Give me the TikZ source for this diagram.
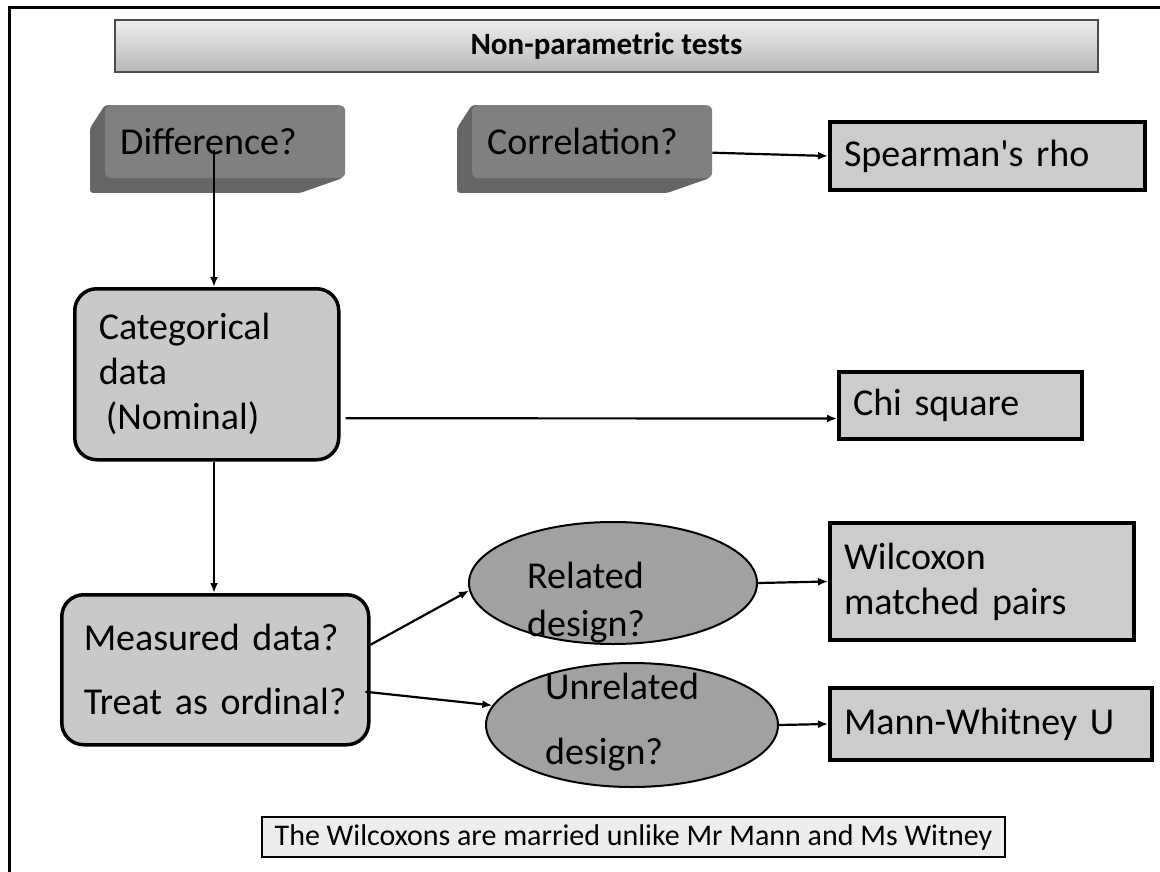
\documentclass[tikz,border=0pt]{standalone}
\usepackage{fontspec}
\setmainfont{Carlito}
\usetikzlibrary{arrows.meta,shapes.geometric}

\tikzset{
  bigtxt/.style={font=\fontsize{38}{45}\selectfont},
  resbox/.style={bigtxt,draw,line width=4pt,fill=black!20,inner xsep=14pt,align=left,anchor=north west},
  databox/.style={bigtxt,draw,line width=3.5pt,fill=black!21,rounded corners=22pt,align=left,anchor=north west},
  plaque/.style={bigtxt,fill=black!50,rounded corners=6pt,inner xsep=15pt,text width=210pt,minimum height=73pt,align=left,anchor=north west},
  design/.style={ellipse,draw,line width=2pt,fill=black!37,inner sep=0pt},
  arr/.style={line width=2.2pt,-{Latex[length=10pt,width=8pt]}},
}

\begin{document}
\begin{tikzpicture}[x=1pt,y=-1pt]
\useasboundingbox (0,0) rectangle (1160,872);
\fill[white] (0,0) rectangle (1160,872);
\draw[line width=3pt] (9,872) -- (9,8) -- (1160,8);

% heading
\node[draw=black!70,line width=2pt,top color=black!7,bottom color=black!28,minimum width=983pt,minimum height=52pt,font=\fontsize{31}{36}\selectfont\bfseries] (title) at (606.5,46) {Non-parametric tests};

% the two question plaques
\foreach \fx in {105,472}
  \fill[black!60,rounded corners=3pt] (\fx,105) -- (\fx-15,128) -- (\fx-15,193) -- (\fx+195,193) -- (\fx+238,178) -- (\fx+238,110) -- cycle;
\node[plaque] (diff) at (105,105) {Difference?};
\node[plaque] (corr) at (472,105) {Correlation?};
\node[resbox,text width=287pt,minimum height=68pt] (spear) at (828,120) {Spearman\textquotesingle s rho};

% data type
\node[databox,text width=216pt,inner xsep=24pt,minimum height=171pt] (cat) at (73,287) {Categorical\\data\\\hspace*{7pt}(Nominal)};
\node[resbox,text width=215pt,minimum height=67pt] (chi) at (837,370) {Chi square};
\node[databox,text width=263pt,inner xsep=22pt,minimum height=150pt] (meas) at (60,593) {Measured data?\\[19pt]Treat as ordinal?};

% design
\node[design,minimum width=288pt,minimum height=122pt] (rel) at (613,583) {};
\node[bigtxt,align=left,anchor=west,inner sep=0pt] (relt) at (527,603) {Related\\[3pt]design?};
\node[design,minimum width=292pt,minimum height=124pt] (unrel) at (632,725) {};
\node[bigtxt,align=left,anchor=west,inner sep=0pt] (unrelt) at (545,722) {Unrelated\\[20pt]design?};
\node[resbox,text width=276pt,minimum height=117pt] (wil) at (828,521) {Wilcoxon\\matched pairs};
\node[resbox,text width=294pt,minimum height=72pt] (mann) at (828,686) {Mann-Whitney U};

\node[draw,line width=2.5pt,fill=black!7,minimum width=743pt,minimum height=40pt,font=\fontsize{30}{34}\selectfont] (note) at (633.5,837) {The Wilcoxons are married unlike Mr Mann and Ms Witney};

% arrows
\coordinate (dstart) at (214,150);
\draw[arr] (dstart) -- (dstart |- cat.north);
\draw[arr] (cat.south -| dstart) -- (meas.north -| dstart);
\draw[arr] ([yshift=-11pt]corr.east) -- (spear.west);
\draw[arr] ([xshift=5pt,yshift=-44pt]cat.east) -- ([yshift=-13pt]chi.west);
\draw[arr] ([yshift=25pt]meas.east) -- (rel.183);
\draw[arr] ([xshift=-5pt,yshift=-22pt]meas.east) -- (unrel.172);
\draw[arr] (rel.east) -- (wil.west);
\draw[arr] (unrel.east) -- (mann.west);
\end{tikzpicture}
\end{document}
